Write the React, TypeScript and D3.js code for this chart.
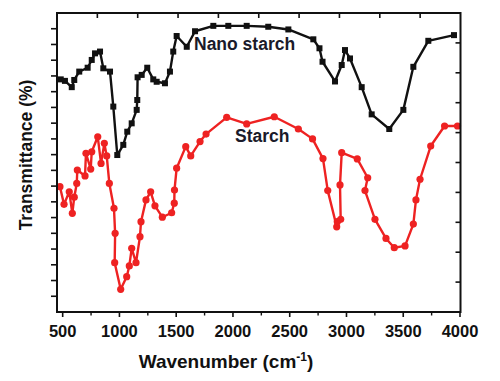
import React from "react";
import * as d3 from "d3";

const nanoWave = [483, 520, 580, 602, 646, 720, 756, 785, 829, 858, 917, 946, 981, 1034, 1069, 1108, 1152, 1157, 1160, 1196, 1245, 1298, 1328, 1401, 1445, 1474, 1504, 1593, 1666, 1827, 1959, 2121, 2311, 2488, 2708, 2762, 2789, 2899, 2958, 2987, 3031, 3134, 3222, 3377, 3501, 3589, 3721, 3947];
const nanoT = [77.8, 77.3, 75.2, 77.6, 80.4, 81.7, 84.3, 86.5, 87.1, 81.5, 80.4, 68.7, 52.5, 55.9, 60.3, 63.1, 67.6, 70.9, 78.5, 79.3, 81.7, 77.8, 77.0, 76.5, 80.4, 87.1, 92.3, 88.7, 93.9, 95.7, 95.7, 95.7, 95.4, 94.5, 91.2, 88.2, 83.7, 77.1, 82.6, 87.6, 84.8, 75.2, 66.1, 61.2, 67.6, 82.0, 90.7, 92.6];

const starchWave = [476, 512, 558, 585, 602, 624, 629, 697, 705, 747, 756, 809, 838, 867, 888, 911, 952, 962, 958, 1011, 1064, 1087, 1108, 1146, 1181, 1190, 1234, 1275, 1313, 1378, 1460, 1483, 1485, 1504, 1584, 1628, 1710, 1763, 1945, 2121, 2364, 2576, 2701, 2793, 2835, 2914, 2919, 2949, 2943, 2958, 3095, 3187, 3163, 3251, 3348, 3421, 3516, 3589, 3612, 3648, 3742, 3864, 3978];
const starchT = [41.9, 36.0, 40.2, 33.0, 38.4, 43.0, 47.5, 45.5, 53.1, 47.8, 53.6, 58.6, 49.7, 56.4, 52.2, 43.0, 34.7, 26.3, 16.5, 7.6, 11.8, 15.4, 21.3, 16.5, 25.2, 30.2, 37.5, 40.2, 35.5, 31.7, 33.2, 36.4, 40.8, 48.1, 55.3, 52.2, 57.0, 59.5, 65.1, 62.9, 65.3, 61.2, 57.9, 51.3, 40.6, 28.5, 30.2, 31.0, 42.5, 53.3, 51.2, 44.9, 40.6, 31.0, 24.6, 21.5, 22.1, 29.4, 37.5, 44.4, 55.5, 62.2, 62.2];

const xTicks = [500, 1000, 1500, 2000, 2500, 3000, 3500, 4000];
const xMinor = [750, 1250, 1750, 2250, 2750, 3250, 3750];
const seriesNames = ["Nano starch", "Starch"];
const xTitle = "Wavenumber (cm";
const yTitle = "Transmittance (%)";

export default function App() {
  const W = 500, H = 381;
  const L = 57, R = 460.5, T = 13, B = 312;
  const x = d3.scaleLinear().domain([450, 4000]).range([L, 460]);
  const y = d3.scaleLinear().domain([0, 100]).range([B, T]);
  const nano = nanoWave.map((w, i) => [w, nanoT[i]] as [number, number]);
  const starch = starchWave.map((w, i) => [w, starchT[i]] as [number, number]);
  const line = d3.line<[number, number]>().x(d => x(d[0])).y(d => y(d[1]));
  const leftTicks = d3.range(1, 19).map(i => T + (B - T) * i / 19);
  const rightTicks = d3.range(1, 10).map(i => T + (B - T) * i / 10);
  const topTicks = d3.range(1, 10).map(i => L + (R - L) * i / 10);
  const red = "#ee2222";
  const font = "'Liberation Sans', Arial, sans-serif";
  return (
    <svg width={W} height={H} style={{ position: "absolute", left: 0, top: 0 }} fontFamily={font}>
      <rect x={0} y={0} width={W} height={H} fill="#fff" />
      {/* lines */}
      <path d={line(starch) || ""} fill="none" stroke={red} strokeWidth={2.4} strokeLinejoin="round" />
      {starch.map((d, i) => (
        <circle key={"s" + i} cx={x(d[0])} cy={y(d[1])} r={3.6} fill={red} />
      ))}
      <path d={line(nano) || ""} fill="none" stroke="#111" strokeWidth={2.4} strokeLinejoin="round" />
      {nano.map((d, i) => (
        <rect key={"n" + i} x={x(d[0]) - 3} y={y(d[1]) - 3} width={6} height={6} fill="#111" />
      ))}
      {/* frame */}
      <rect x={L} y={T} width={R - L} height={B - T} fill="none" stroke="#111" strokeWidth={2} />
      {leftTicks.map((t, i) => (
        <line key={"l" + i} x1={L - 6} x2={L} y1={t} y2={t} stroke="#111" strokeWidth={1.6} />
      ))}
      {rightTicks.map((t, i) => (
        <line key={"r" + i} x1={R - 5} x2={R} y1={t} y2={t} stroke="#111" strokeWidth={1.6} />
      ))}
      {topTicks.map((t, i) => (
        <line key={"t" + i} x1={t} x2={t} y1={T} y2={T + 5} stroke="#111" strokeWidth={1.6} />
      ))}
      {xTicks.map(t => (
        <g key={"x" + t}>
          <line x1={x(t)} x2={x(t)} y1={B} y2={B + 5} stroke="#111" strokeWidth={1.6} />
          <text x={x(t)} y={337} textAnchor="middle" fontSize={16.5} fontWeight="bold" fill="#111">{t}</text>
        </g>
      ))}
      {xMinor.map(t => (
        <line key={"m" + t} x1={x(t)} x2={x(t)} y1={B} y2={B + 3.5} stroke="#111" strokeWidth={1.4} />
      ))}
      <text x={226} y={368} textAnchor="middle" fontSize={19} fontWeight="bold" fill="#111">
        {xTitle}
        <tspan fontSize={12} dy={-7}>-1</tspan>
        <tspan dy={7}>)</tspan>
      </text>
      <text transform="translate(32,155) rotate(-90)" textAnchor="middle" fontSize={17.5} fontWeight="bold" fill="#111">{yTitle}</text>
      <text x={194} y={50} fontSize={17.5} fontWeight="bold" fill="#1a1a2a">{seriesNames[0]}</text>
      <text x={235} y={142} fontSize={17.5} fontWeight="bold" fill="#1a1a2a">{seriesNames[1]}</text>
    </svg>
  );
}
